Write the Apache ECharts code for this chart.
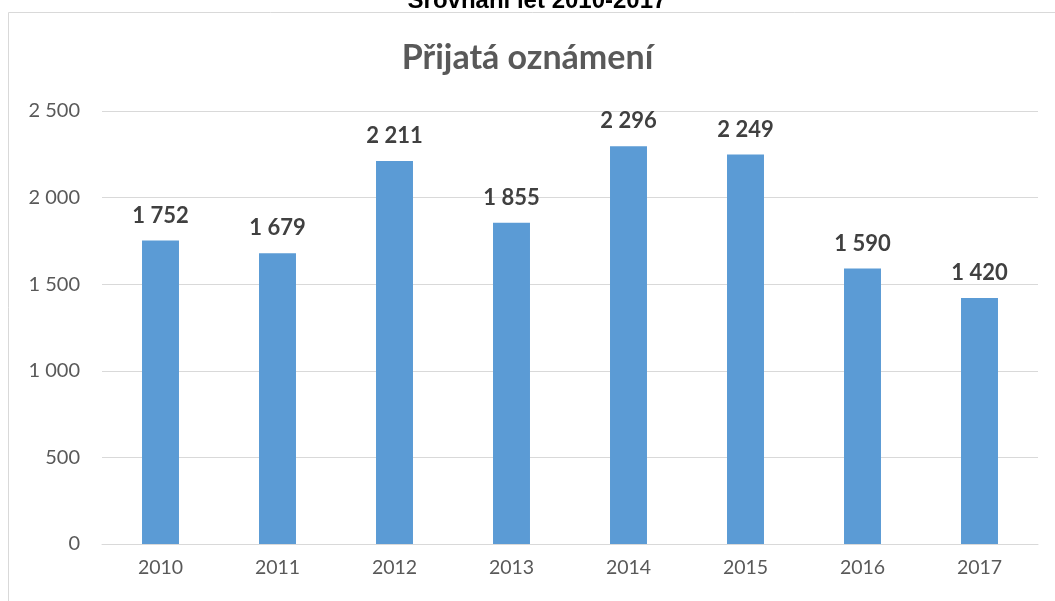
<!DOCTYPE html>
<html lang="cs">
<head>
  <meta charset="UTF-8">
  <title>Přijatá oznámení</title>
  <script src="https://cdn.jsdelivr.net/npm/echarts@6/dist/echarts.min.js"></script>
</head>
<body style="margin:0">
  <div id="chart" style="width:1055px;height:601px"></div>
  <script>
    const years = ['2010', '2011', '2012', '2013', '2014', '2015', '2016', '2017']
    const received = [1752, 1679, 2211, 1855, 2296, 2249, 1590, 1420]

    // mezera jako oddělovač tisíců
    const fmt = v => String(v).replace(/\B(?=(\d{3})+(?!\d))/g, ' ')

    const myChart = echarts.init(document.getElementById('chart'))
    const option = {
      animation: false,
      graphic: [
        {
          type: 'rect',
          shape: { x: 8.5, y: 12.5, width: 1200, height: 800 },
          style: { fill: 'none', stroke: '#d9d9d9', lineWidth: 1 }
        },
        {
          type: 'text',
          x: 537,
          y: 13,
          style: {
            text: 'Srovnání let 2010-2017',
            font: 'bold 24px "Liberation Sans", Arial, sans-serif',
            fill: '#000',
            align: 'center',
            verticalAlign: 'bottom'
          }
        }
      ],
      title: {
        text: 'Přijatá oznámení',
        left: 'center',
        top: 36,
        textStyle: {
          fontFamily: 'Lato',
          fontSize: 34,
          fontWeight: 'bold',
          color: '#595959'
        }
      },
      grid: { left: 102, right: 17, top: 111, bottom: 57 },
      xAxis: {
        type: 'category',
        data: years,
        axisLine: { lineStyle: { color: '#d9d9d9' } },
        axisTick: { show: false },
        axisLabel: { color: '#595959', fontSize: 19.5, fontFamily: 'Lato', margin: 14 }
      },
      yAxis: {
        type: 'value',
        min: 0,
        max: 2500,
        interval: 500,
        axisLabel: {
          color: '#595959', fontSize: 20, fontFamily: 'Lato', margin: 22,
          formatter: fmt
        },
        splitLine: { lineStyle: { color: '#d9d9d9' } }
      },
      series: [
        {
          type: 'bar',
          data: received,
          barWidth: '31.6%',
          itemStyle: { color: '#5b9bd5' },
          label: {
            show: true,
            position: 'top',
            distance: 14,
            formatter: p => fmt(p.value),
            fontFamily: 'Lato',
            fontSize: 22,
            fontWeight: 'bold',
            color: '#404040'
          }
        }
      ]
    }
    myChart.setOption(option)
  </script>
</body>
</html>
